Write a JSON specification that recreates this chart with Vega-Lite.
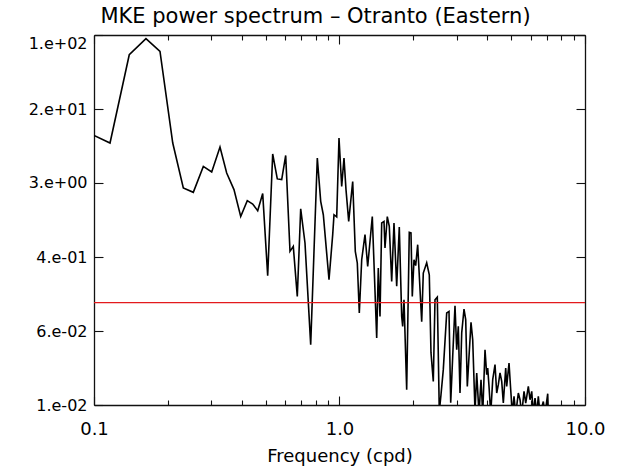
{
  "$schema": "https://vega.github.io/schema/vega-lite/v6.json",
  "width": 491,
  "height": 370,
  "autosize": "none",
  "padding": {"left": 94, "top": 35, "right": 43, "bottom": 64},
  "background": "white",
  "config": {
    "view": {"stroke": null},
    "font": "DejaVu Sans",
    "axis": {
      "grid": false,
      "domainColor": "#111111",
      "domainWidth": 1.3,
      "tickColor": "#111111",
      "tickWidth": 1.1,
      "labelColor": "black",
      "titleColor": "black",
      "titleFontSize": 18,
      "titleFontWeight": "normal"
    }
  },
  "title": {
    "text": "MKE power spectrum – Otranto (Eastern)",
    "fontSize": 21,
    "fontWeight": "normal",
    "color": "black",
    "dx": -24,
    "offset": 7
  },
  "resolve": {"axis": {"x": "independent", "y": "independent"}},
  "layer": [
    {
      "data": {
        "values": [
          {"f": 0.1, "p": 8.21}, {"f": 0.1162, "p": 6.8}, {"f": 0.1392, "p": 61.2}, {"f": 0.1628, "p": 91.2},
          {"f": 0.1857, "p": 66.5}, {"f": 0.2093, "p": 6.8}, {"f": 0.2311, "p": 2.22}, {"f": 0.2538, "p": 1.99},
          {"f": 0.2788, "p": 3.8}, {"f": 0.3016, "p": 3.3}, {"f": 0.326, "p": 6.15}, {"f": 0.3471, "p": 3.22},
          {"f": 0.3717, "p": 2.13}, {"f": 0.3959, "p": 1.09}, {"f": 0.4211, "p": 1.62}, {"f": 0.443, "p": 1.49},
          {"f": 0.4643, "p": 1.26}, {"f": 0.4866, "p": 1.93}, {"f": 0.5099, "p": 0.25}, {"f": 0.5344, "p": 5.17},
          {"f": 0.558, "p": 2.78}, {"f": 0.5815, "p": 2.73}, {"f": 0.6037, "p": 4.99}, {"f": 0.6286, "p": 0.458},
          {"f": 0.6483, "p": 0.518}, {"f": 0.6731, "p": 0.149}, {"f": 0.6949, "p": 1.32}, {"f": 0.7235, "p": 0.564},
          {"f": 0.7632, "p": 0.0449}, {"f": 0.8121, "p": 4.68}, {"f": 0.8384, "p": 1.59}, {"f": 0.8592, "p": 1.14},
          {"f": 0.9063, "p": 0.226}, {"f": 0.9382, "p": 0.694}, {"f": 0.9497, "p": 1.14}, {"f": 0.9741, "p": 1.08},
          {"f": 0.9953, "p": 7.7}, {"f": 1.0208, "p": 2.31}, {"f": 1.0431, "p": 4.68}, {"f": 1.0628, "p": 2.13},
          {"f": 1.0901, "p": 0.966}, {"f": 1.1318, "p": 2.61}, {"f": 1.1597, "p": 0.458}, {"f": 1.1817, "p": 0.343},
          {"f": 1.2041, "p": 0.0988}, {"f": 1.2315, "p": 0.372}, {"f": 1.2702, "p": 0.694}, {"f": 1.3027, "p": 0.315},
          {"f": 1.3602, "p": 1.09}, {"f": 1.4175, "p": 0.053}, {"f": 1.4389, "p": 0.303}, {"f": 1.462, "p": 0.0908},
          {"f": 1.4855, "p": 0.928}, {"f": 1.5179, "p": 0.966}, {"f": 1.5322, "p": 0.498}, {"f": 1.5656, "p": 1.09},
          {"f": 1.5952, "p": 0.853}, {"f": 1.6315, "p": 0.217}, {"f": 1.6671, "p": 0.928}, {"f": 1.7098, "p": 0.192},
          {"f": 1.752, "p": 0.84}, {"f": 1.7919, "p": 0.0908}, {"f": 1.8088, "p": 0.0708}, {"f": 1.831, "p": 0.1375},
          {"f": 1.8779, "p": 0.01464}, {"f": 1.9242, "p": 0.735}, {"f": 1.9552, "p": 0.725}, {"f": 1.9792, "p": 0.149},
          {"f": 2.011, "p": 0.372}, {"f": 2.0433, "p": 0.321}, {"f": 2.082, "p": 0.541}, {"f": 2.1618, "p": 0.0795},
          {"f": 2.1944, "p": 0.267}, {"f": 2.2655, "p": 0.345}, {"f": 2.3214, "p": 0.256}, {"f": 2.3587, "p": 0.0368},
          {"f": 2.4101, "p": 0.018}, {"f": 2.449, "p": 0.1375}, {"f": 2.5024, "p": 0.147}, {"f": 2.5498, "p": 0.0085},
          {"f": 2.5908, "p": 0.0129}, {"f": 2.6473, "p": 0.0241}, {"f": 2.7331, "p": 0.0988}, {"f": 2.7927, "p": 0.1028},
          {"f": 2.8376, "p": 0.0106}, {"f": 2.8913, "p": 0.0335}, {"f": 2.9544, "p": 0.1185}, {"f": 3.0019, "p": 0.0396},
          {"f": 3.0474, "p": 0.0708}, {"f": 3.0964, "p": 0.01348}, {"f": 3.1462, "p": 0.06}, {"f": 3.2148, "p": 0.1091},
          {"f": 3.2665, "p": 0.0836}, {"f": 3.3159, "p": 0.0159}, {"f": 3.3692, "p": 0.0335}, {"f": 3.433, "p": 0.0782},
          {"f": 3.4882, "p": 0.0508}, {"f": 3.5643, "p": 0.0085}, {"f": 3.6216, "p": 0.0222}, {"f": 3.7006, "p": 0.008},
          {"f": 3.7707, "p": 0.01877}, {"f": 3.8313, "p": 0.008}, {"f": 3.9149, "p": 0.0396}, {"f": 3.9778, "p": 0.02126},
          {"f": 4.0153, "p": 0.0251}, {"f": 4.0646, "p": 0.0159}, {"f": 4.1299, "p": 0.008}, {"f": 4.2081, "p": 0.01877},
          {"f": 4.2999, "p": 0.0273}, {"f": 4.369, "p": 0.01348}, {"f": 4.4352, "p": 0.01657}, {"f": 4.5065, "p": 0.0222},
          {"f": 4.5789, "p": 0.018}, {"f": 4.6482, "p": 0.0105}, {"f": 4.7539, "p": 0.0251}, {"f": 4.7986, "p": 0.0159},
          {"f": 4.9033, "p": 0.02845}, {"f": 4.9822, "p": 0.01464}, {"f": 5.0577, "p": 0.008}, {"f": 5.139, "p": 0.01239},
          {"f": 5.2217, "p": 0.008}, {"f": 5.3506, "p": 0.01348}, {"f": 5.4366, "p": 0.0114}, {"f": 5.524, "p": 0.008},
          {"f": 5.6444, "p": 0.01403}, {"f": 5.7352, "p": 0.0105}, {"f": 5.8767, "p": 0.0159}, {"f": 5.9712, "p": 0.0114},
          {"f": 6.0672, "p": 0.01403}, {"f": 6.1588, "p": 0.008}, {"f": 6.2578, "p": 0.0119}, {"f": 6.3584, "p": 0.008},
          {"f": 6.4545, "p": 0.01239}, {"f": 6.5582, "p": 0.008}, {"f": 6.7645, "p": 0.0109}, {"f": 6.8733, "p": 0.008},
          {"f": 7.0494, "p": 0.01325}, {"f": 7.0891, "p": 0.008}
        ]
      },
      "mark": {"type": "line", "color": "black", "strokeWidth": 1.6, "clip": true},
      "encoding": {
        "x": {
          "field": "f",
          "type": "quantitative",
          "scale": {"type": "log", "domain": [0.1, 10], "nice": false},
          "axis": {
            "orient": "bottom",
            "values": [0.1, 0.2, 0.3, 0.4, 0.5, 0.6, 0.7, 0.8, 0.9, 1, 2, 3, 4, 5, 6, 7, 8, 9, 10],
            "tickSize": {"condition": {"test": "datum.value == 0.1 || datum.value == 1 || datum.value == 10", "value": -9}, "value": -5},
            "labelExpr": "datum.value == 0.1 ? '0.1' : datum.value == 1 ? '1.0' : datum.value == 10 ? '10.0' : ''",
            "labelFlush": false,
            "labelOverlap": false,
            "labelFontSize": 18,
            "labelPadding": 24,
            "title": "Frequency (cpd)",
            "titlePadding": 5
          }
        },
        "y": {
          "field": "p",
          "type": "quantitative",
          "scale": {"type": "log", "domain": [0.01, 100], "nice": false},
          "axis": {
            "orient": "left",
            "values": [0.01, 0.0630957, 0.398107, 2.51189, 15.8489, 100],
            "tickSize": -9,
            "labelPadding": 16,
            "labelFontSize": 16,
            "labelFlush": false,
            "labelOverlap": false,
            "labelBaseline": {"condition": {"test": "datum.value > 50", "value": "top"}, "value": "middle"},
            "labelExpr": "datum.value < 0.02 ? '1.e-02' : datum.value < 0.1 ? '6.e-02' : datum.value < 1 ? '4.e-01' : datum.value < 5 ? '3.e+00' : datum.value < 50 ? '2.e+01' : '1.e+02'",
            "title": null
          }
        }
      }
    },
    {
      "data": {"values": [{"level": 0.128}]},
      "mark": {"type": "rule", "color": "#e31a1c", "strokeWidth": 1.4},
      "encoding": {
        "x": {
          "datum": 0.1,
          "type": "quantitative",
          "axis": {
            "orient": "top",
            "values": [0.1, 0.2, 0.3, 0.4, 0.5, 0.6, 0.7, 0.8, 0.9, 1, 2, 3, 4, 5, 6, 7, 8, 9, 10],
            "tickSize": {"condition": {"test": "datum.value == 0.1 || datum.value == 1 || datum.value == 10", "value": -9}, "value": -5},
            "labels": false,
            "title": null
          }
        },
        "x2": {"datum": 10},
        "y": {
          "field": "level",
          "type": "quantitative",
          "axis": {
            "orient": "right",
            "values": [0.01, 0.0630957, 0.398107, 2.51189, 15.8489, 100],
            "tickSize": -9,
            "labels": false,
            "title": null
          }
        }
      }
    }
  ]
}
